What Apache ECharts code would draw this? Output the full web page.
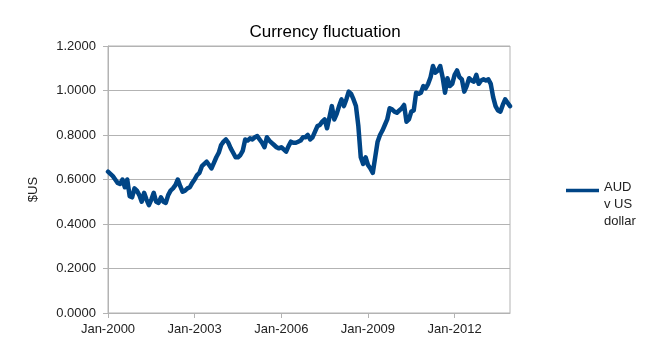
<!DOCTYPE html>
<html>
<head>
<meta charset="utf-8">
<script src="https://cdn.jsdelivr.net/npm/echarts@6/dist/echarts.min.js"></script>
<style>html,body{margin:0;padding:0;background:#fff;}#c{width:650px;height:362px;}</style>
</head>
<body>
<div id="c"></div>
<script>
var monthNames = ['Jan','Feb','Mar','Apr','May','Jun','Jul','Aug','Sep','Oct','Nov','Dec'];
var years = [2000,2001,2002,2003,2004,2005,2006,2007,2008,2009,2010,2011,2012,2013];
var yTicks = [0, 0.2, 0.4, 0.6, 0.8, 1.0, 1.2];

var v2000 = [0.635,0.625,0.615,0.600,0.585,0.580,0.600,0.565,0.600,0.525,0.520,0.560];
var v2001 = [0.550,0.530,0.500,0.540,0.510,0.485,0.510,0.540,0.500,0.495,0.520,0.500];
var v2002 = [0.495,0.530,0.550,0.560,0.575,0.600,0.570,0.545,0.550,0.560,0.565,0.585];
var v2003 = [0.600,0.620,0.630,0.660,0.670,0.680,0.665,0.650,0.675,0.700,0.720,0.755];
var v2004 = [0.770,0.780,0.765,0.740,0.720,0.700,0.700,0.710,0.730,0.780,0.775,0.785];
var v2005 = [0.780,0.790,0.795,0.780,0.765,0.745,0.790,0.775,0.765,0.755,0.745,0.740];
var v2006 = [0.745,0.735,0.725,0.750,0.770,0.765,0.765,0.770,0.775,0.790,0.790,0.800];
var v2007 = [0.780,0.790,0.815,0.840,0.845,0.860,0.870,0.830,0.880,0.930,0.870,0.895];
var v2008 = [0.930,0.960,0.930,0.960,0.995,0.985,0.960,0.930,0.840,0.700,0.670,0.700];
var v2009 = [0.665,0.650,0.630,0.700,0.770,0.800,0.820,0.845,0.870,0.920,0.915,0.905];
var v2010 = [0.900,0.910,0.920,0.935,0.860,0.870,0.905,0.910,0.990,0.985,0.990,1.020];
var v2011 = [1.010,1.030,1.060,1.110,1.080,1.090,1.110,1.060,0.990,1.055,1.020,1.030];
var v2012 = [1.070,1.090,1.060,1.050,0.995,1.020,1.055,1.045,1.040,1.070,1.030,1.045];
var v2013 = [1.050,1.045,1.050,1.030,0.970,0.930,0.910,0.905,0.935,0.960,0.945,0.930];

var seriesName = 'AUD v US dollar';
var values = [].concat(v2000,v2001,v2002,v2003,v2004,v2005,v2006,v2007,v2008,v2009,v2010,v2011,v2012,v2013);
var categories = [];
years.forEach(function(y){ monthNames.forEach(function(m){ categories.push(m + '-' + y); }); });

var FONT = '"Liberation Sans", Arial, sans-serif';
var chart = echarts.init(document.getElementById('c'), null, {renderer:'canvas'});
chart.setOption({
  animation: false,
  backgroundColor: '#ffffff',
  title: {
    text: 'Currency fluctuation',
    left: 'center',
    top: 19,
    textStyle: {fontFamily: FONT, fontSize: 17, fontWeight: 'normal', color: '#000'}
  },
  legend: {
    left: 561,
    top: 174,
    itemWidth: 33,
    itemHeight: 51,
    itemGap: 5,
    icon: 'path://M0,0H0.1V0.1H0Z M0,6.5H40V10.5H0Z M0,50.9H0.1V51H0Z',
    data: [seriesName],
    formatter: function(){ return 'AUD\nv US\ndollar'; },
    textStyle: {fontFamily: FONT, fontSize: 13, color: '#222', lineHeight: 17}
  },
  grid: {left: 108, right: 140, top: 46, bottom: 49, show: true, borderColor: '#b3b3b3', borderWidth: 1},
  xAxis: {
    type: 'category',
    data: categories,
    boundaryGap: false,
    axisLine: {lineStyle: {color: '#b3b3b3'}},
    axisTick: {show: true, interval: 35, length: 5, lineStyle: {color: '#b3b3b3'}},
    axisLabel: {interval: 35, margin: 10, hideOverlap: false, fontFamily: FONT, fontSize: 13, color: '#222'},
    splitLine: {show: false}
  },
  yAxis: {
    type: 'value',
    min: yTicks[0],
    max: yTicks[yTicks.length - 1],
    interval: 0.2,
    name: '$US',
    nameLocation: 'middle',
    nameRotate: 90,
    nameGap: 68,
    nameTextStyle: {fontFamily: FONT, fontSize: 13, color: '#222', padding: [0, 20, 0, 0]},
    axisLine: {show: true, lineStyle: {color: '#b3b3b3'}},
    axisTick: {show: true, length: 5, lineStyle: {color: '#b3b3b3'}},
    axisLabel: {margin: 12, fontFamily: FONT, fontSize: 13, color: '#222', formatter: function(v){ return v.toFixed(4); }},
    splitLine: {show: true, lineStyle: {color: '#b3b3b3'}}
  },
  series: [{
    name: seriesName,
    type: 'line',
    data: values,
    showSymbol: false,
    symbol: 'none',
    color: '#004586',
    lineStyle: {width: 4.5, color: '#004586', join: 'round', cap: 'round'}
  }]
});
</script>
</body>
</html>
